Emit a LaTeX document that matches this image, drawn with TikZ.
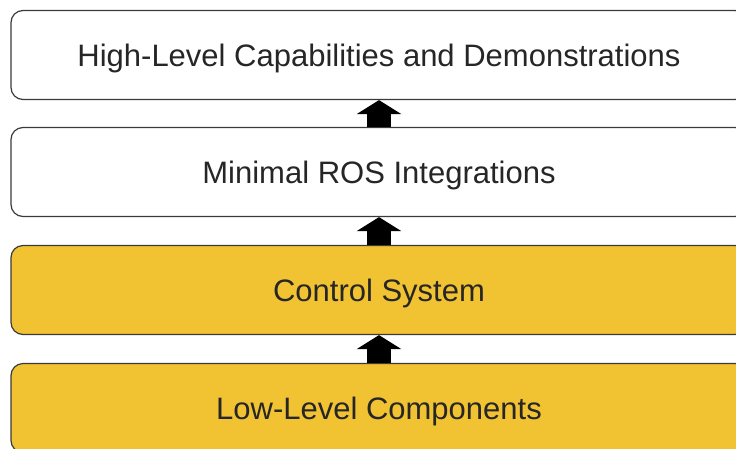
\documentclass[tikz,border=0pt]{standalone}
\usepackage{fontspec}
\setmainfont{Liberation Sans}
\usetikzlibrary{arrows.meta}
\definecolor{layeryellow}{HTML}{F1C232}
\definecolor{edgegray}{HTML}{3A3A3A}
\tikzset{
  layer/.style={draw=edgegray, line width=1.2pt, rounded corners=12pt,
    minimum width=736pt, minimum height=89pt, inner sep=0pt,
    text height=22pt, text depth=-1pt,
    font=\fontsize{31}{36}\selectfont, text=black!85},
  plainlayer/.style={layer, fill=white},
  corelayer/.style={layer, fill=layeryellow},
  uparrow/.style={line width=24pt, black,
    -{Triangle[length=14pt,width=44pt]}}
}
\begin{document}
\begin{tikzpicture}[x=1pt,y=1pt]
  \useasboundingbox (0,0) rectangle (736,-448);
  % stacked layers, top to bottom
  \node[plainlayer] (top)  at (379,-55)  {High-Level Capabilities and Demonstrations};
  \node[plainlayer] (ros)  at (379,-172) {Minimal ROS Integrations};
  \node[corelayer]  (ctrl) at (379,-290) {Control System};
  \node[corelayer]  (low)  at (379,-408) {Low-Level Components};
  % block arrows between layers
  \draw[uparrow] (ros.north)  -- (top.south);
  \draw[uparrow] (ctrl.north) -- (ros.south);
  \draw[uparrow] (low.north)  -- (ctrl.south);
\end{tikzpicture}
\end{document}
